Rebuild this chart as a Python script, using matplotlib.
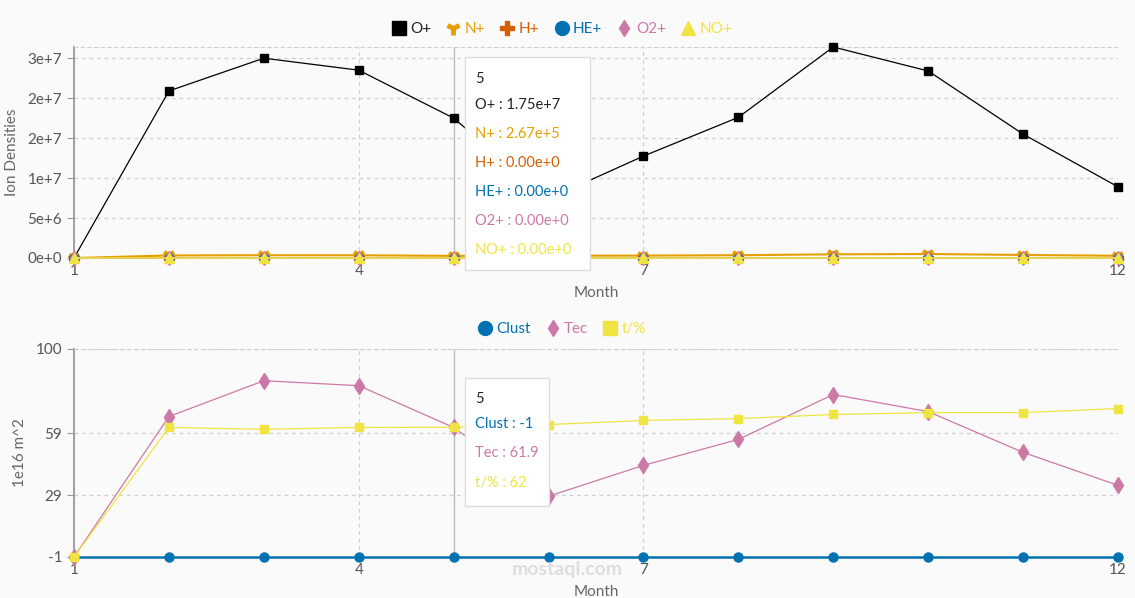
import matplotlib
matplotlib.use("Agg")
import matplotlib.pyplot as plt
from matplotlib.lines import Line2D
from matplotlib.patches import Rectangle

plt.rcParams['font.family'] = ['Lato', 'DejaVu Sans']
plt.rcParams['axes.unicode_minus'] = False

# ---- data ----
months = [1, 2, 3, 4, 5, 6, 7, 8, 9, 10, 11, 12]

o_plus = [0, 2.09e7, 2.50e7, 2.35e7, 1.75e7, 7.4e6, 1.275e7, 1.76e7, 2.64e7, 2.34e7, 1.55e7, 8.9e6]
n_plus = [0, 3.2e5, 3.5e5, 3.4e5, 2.67e5, 2.9e5, 3.0e5, 3.5e5, 4.6e5, 5.0e5, 3.8e5, 2.8e5]
h_plus = [0] * 12
he_plus = [0] * 12
o2_plus = [0] * 12
no_plus = [0] * 12

clust = [-1] * 12
tec = [-1, 67.2, 84.6, 82.2, 61.9, 28.5, 43.5, 56.1, 77.9, 69.6, 49.8, 33.8]
t_pct = [-1, 61.9, 61.0, 61.9, 62, 63.3, 65.3, 66.2, 68.2, 69.1, 69.1, 71.1]

top_yticks = [0, 5e6, 1e7, 1.5e7, 2e7, 2.5e7]
top_ylabels = ['0e+0', '5e+6', '1e+7', '2e+7', '2e+7', '3e+7']
bot_yticks = [-1, 29, 59, 100]
x_ticks = [1, 4, 7, 12]
hover_month = 5

# colours
BG = '#fafafa'
GRID = '#d0d0d0'
TXT = '#666666'
c_o, c_n, c_h, c_he, c_o2, c_no = 'black', '#E69F00', '#D55E00', '#0072B2', '#CC79A7', '#F0E442'

W, H = 1135, 598
fig = plt.figure(figsize=(W / 100, H / 100), dpi=100, facecolor=BG)


def px(x, y):
    return x / W, 1 - y / H


def sci(v):
    m, e = ('%.2e' % v).split('e')
    e = int(e)
    return '%se%s%d' % (m, '+' if e >= 0 else '-', abs(e))


def style_axis(ax, xlabelpad):
    ax.set_facecolor(BG)
    for s in ['right', 'bottom']:
        ax.spines[s].set_visible(False)
    ax.spines['top'].set_color(GRID)
    ax.spines['top'].set_linestyle((0, (3, 3)))
    ax.spines['left'].set_color('#999999')
    ax.spines['left'].set_linewidth(1.3)
    ax.set_xlim(1, 12)
    ax.set_xticks(x_ticks)
    ax.grid(True, color=GRID, linestyle=(0, (3, 3)), linewidth=0.9)
    ax.tick_params(axis='x', length=0, pad=4, labelsize=11, labelcolor='#555555')
    ax.tick_params(axis='y', length=5, color='#999999', labelsize=11, labelcolor='#555555')
    ax.set_xlabel('Month', color=TXT, fontsize=11, labelpad=xlabelpad)
    ax.axvline(hover_month, color='#bbbbbb', linewidth=1, zorder=1)


# ---- top chart ----
l, b = px(74, 258)
ax1 = fig.add_axes([l, b, (1118 - 74) / W, (258 - 47) / H])
style_axis(ax1, 6)
ax1.plot(months, o_plus, color=c_o, lw=0.9, marker='s', ms=6, zorder=3, clip_on=False)
ax1.plot(months, n_plus, color=c_n, lw=1.5, marker='1', ms=9, mew=3, zorder=3, clip_on=False)
ax1.plot(months, h_plus, color=c_h, lw=1.2, marker='P', ms=7, zorder=3, clip_on=False)
ax1.plot(months, he_plus, color=c_he, lw=1.2, marker='o', ms=6.5, zorder=3, clip_on=False)
ax1.plot(months, o2_plus, color=c_o2, lw=1.2, marker='d', ms=7, zorder=3, clip_on=False)
ax1.plot(months, no_plus, color=c_no, lw=1.2, marker='^', ms=7, zorder=4, clip_on=False)
ax1.set_ylim(0, max(o_plus))
ax1.set_yticks(top_yticks)
ax1.set_yticklabels(top_ylabels)
ax1.set_ylabel('Ion Densities', color=TXT, fontsize=11, labelpad=6)

handles = [
    Line2D([], [], ls='', marker='s', ms=10, color=c_o),
    Line2D([], [], ls='', marker='1', ms=10, mew=3.5, color=c_n),
    Line2D([], [], ls='', marker='P', ms=10, color=c_h),
    Line2D([], [], ls='', marker='o', ms=10, color=c_he),
    Line2D([], [], ls='', marker='d', ms=8, color=c_o2),
    Line2D([], [], ls='', marker='^', ms=10, color=c_no),
]
names = ['O+', 'N+', 'H+', 'HE+', 'O2+', 'NO+']
leg = fig.legend(handles, names, loc='center', bbox_to_anchor=px(562, 29), ncol=6,
                 frameon=False, fontsize=11, handlelength=0.9, handletextpad=0.3,
                 columnspacing=1.0)
for t, c in zip(leg.get_texts(), [c_o, c_n, c_h, c_he, c_o2, c_no]):
    t.set_color('#222222' if c == 'black' else c)

# ---- bottom chart ----
l, b = px(74, 557)
ax2 = fig.add_axes([l, b, (1118 - 74) / W, (557 - 349) / H])
style_axis(ax2, 6)
ax2.plot(months, clust, color=c_he, lw=1.8, marker='o', ms=6.5, zorder=3, clip_on=False)
ax2.plot(months, tec, color=c_o2, lw=0.9, marker='d', ms=8, zorder=3, clip_on=False)
ax2.plot(months, t_pct, color=c_no, lw=0.9, marker='s', ms=6, zorder=4, clip_on=False)
ax2.set_ylim(-1, 100)
ax2.set_yticks(bot_yticks)
ax2.set_ylabel('1e16 m^2', color=TXT, fontsize=11, labelpad=6)

handles2 = [
    Line2D([], [], ls='', marker='o', ms=10, color=c_he),
    Line2D([], [], ls='', marker='d', ms=8, color=c_o2),
    Line2D([], [], ls='', marker='s', ms=10, color=c_no),
]
leg2 = fig.legend(handles2, ['Clust', 'Tec', 't/%'], loc='center', bbox_to_anchor=px(562, 329),
                  ncol=3, frameon=False, fontsize=11, handlelength=0.9, handletextpad=0.3,
                  columnspacing=1.0)
for t, c in zip(leg2.get_texts(), [c_he, c_o2, c_no]):
    t.set_color(c)

# ---- tooltips ----
i = months.index(hover_month)


def tooltip(x0, y0, x1, y1, rows):
    fx, fy = px(x0, y1)
    fig.add_artist(Rectangle((fx, fy), (x1 - x0) / W, (y1 - y0) / H, transform=fig.transFigure,
                             facecolor='white', edgecolor='#dddddd', lw=1, zorder=10))
    for (y, s, c) in rows:
        fig.text(*px(x0 + 10, y), s, color=c, fontsize=10.5, va='center', ha='left', zorder=11)


ion_rows = [(79, str(hover_month), '#222222')]
for k, (nm, ser, c) in enumerate(zip(names, [o_plus, n_plus, h_plus, he_plus, o2_plus, no_plus],
                                      ['#222222', c_n, c_h, c_he, c_o2, c_no])):
    ion_rows.append((105 + k * 29, '%s : %s' % (nm, sci(ser[i])), c))
tooltip(465, 57, 590, 270, ion_rows)

bot_rows = [(399, str(hover_month), '#222222'),
            (424, 'Clust : %g' % clust[i], c_he),
            (453, 'Tec : %g' % tec[i], c_o2),
            (483, 't/%% : %g' % t_pct[i], c_no)]
tooltip(465, 378, 549, 506, bot_rows)

# watermark
fig.text(*px(567, 570), 'mostaql.com', color='#dddddd', fontsize=14, fontweight='bold',
         ha='center', va='center', zorder=0)

fig.savefig('out.png', dpi=100, facecolor=BG)
